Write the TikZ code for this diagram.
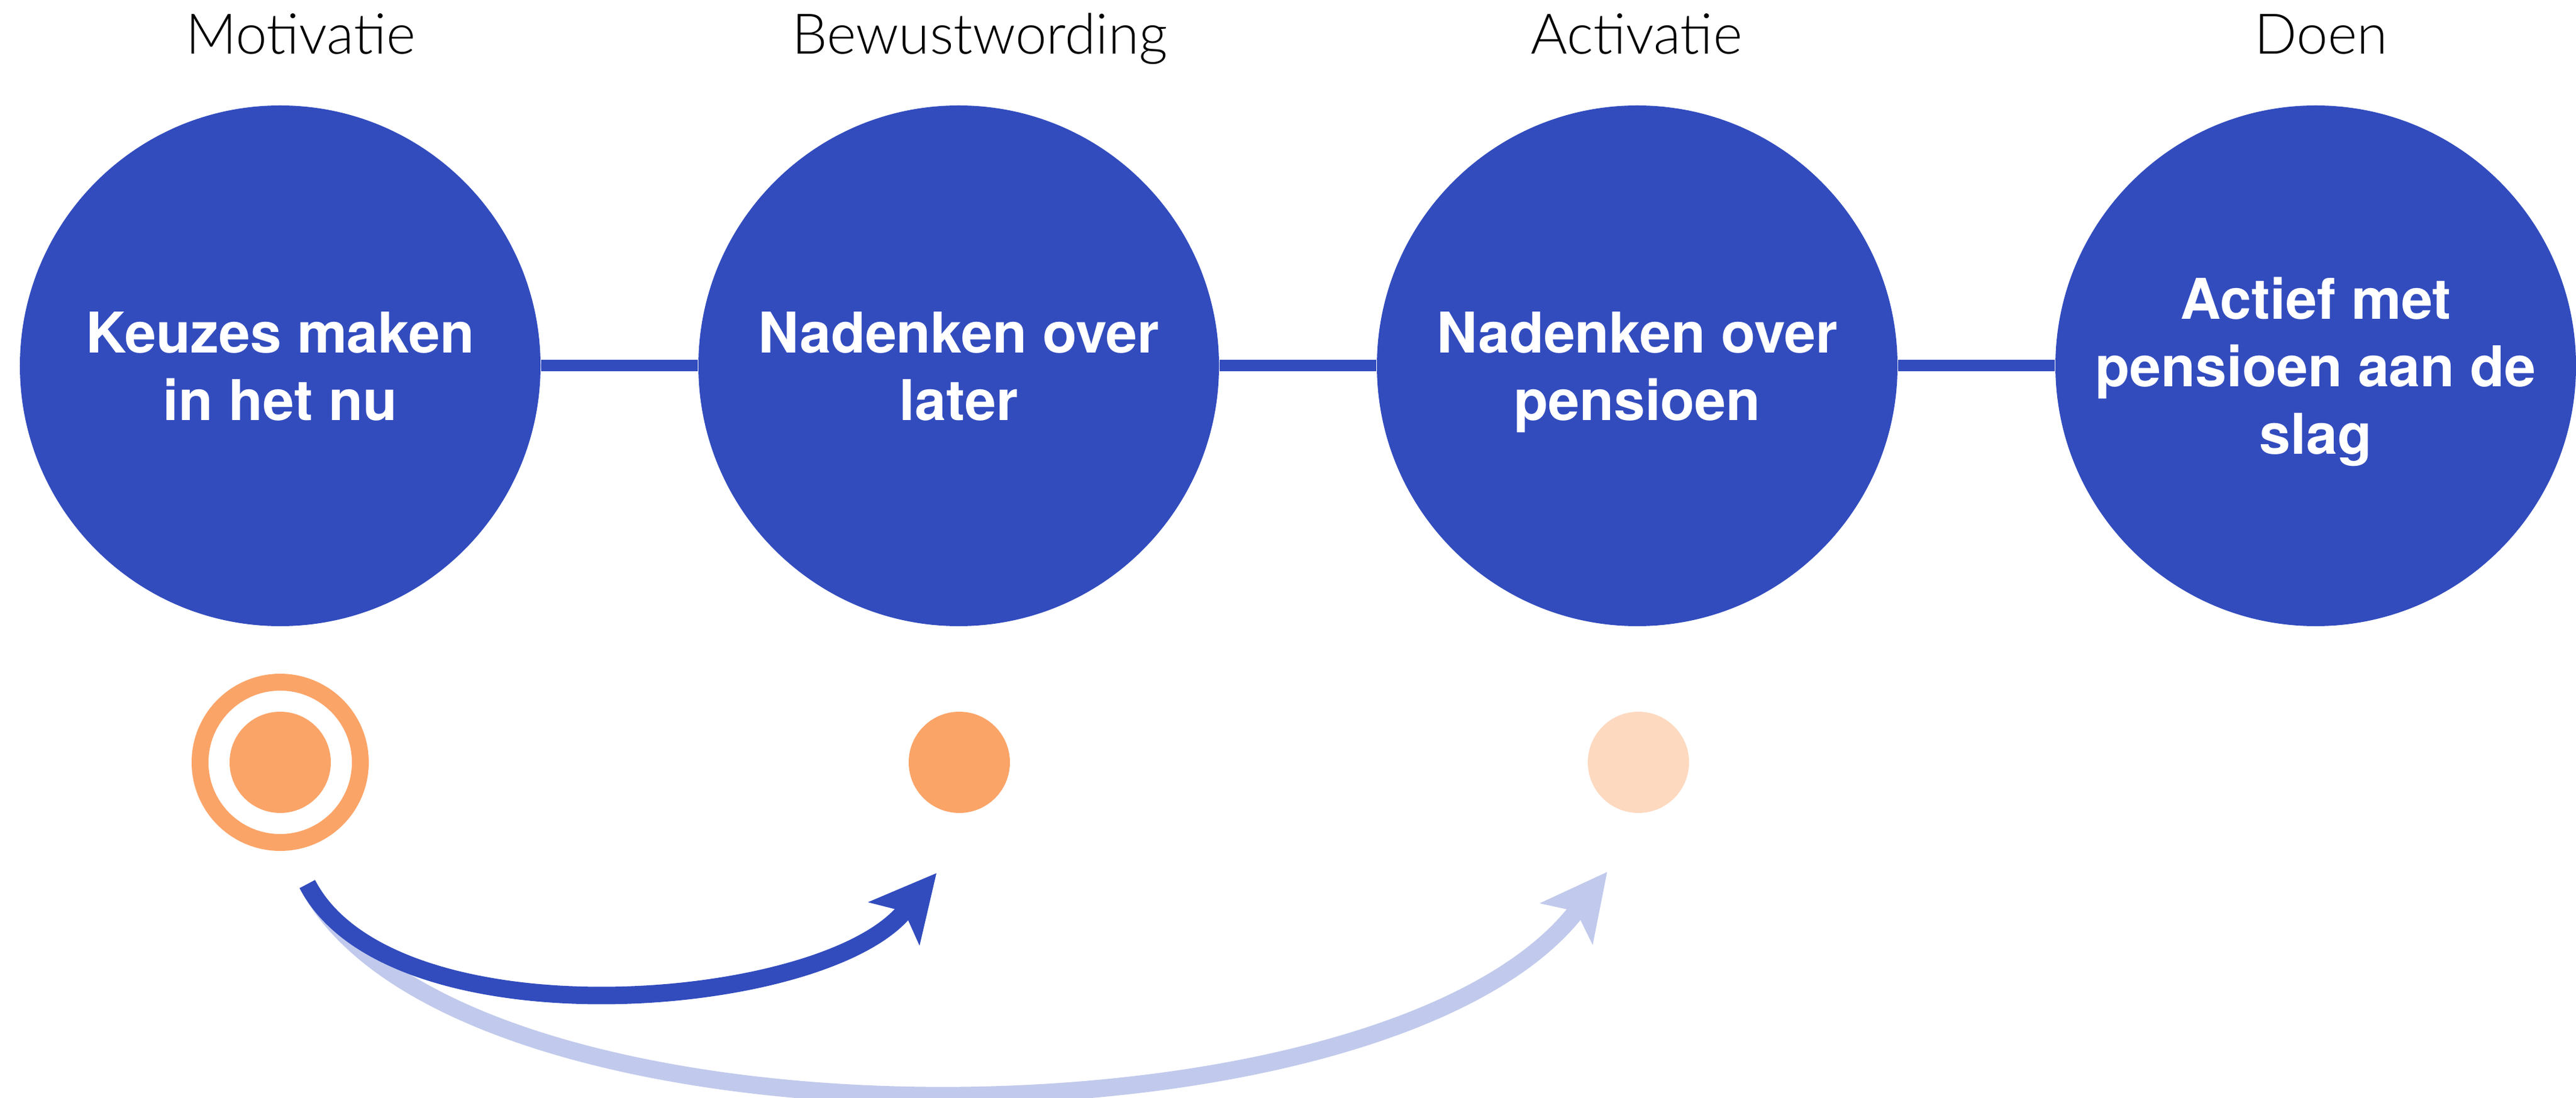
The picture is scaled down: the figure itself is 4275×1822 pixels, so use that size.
\documentclass[tikz,border=0pt]{standalone}
\usepackage{fontspec}
\usetikzlibrary{arrows.meta}
\newfontfamily\boldf{TeX Gyre Heros}
\IfFontExistsTF{Lato Light}{\newfontfamily\hdrf{Lato Light}}{\newfontfamily\hdrf{Lato}}
\definecolor{mainblue}{HTML}{324CBE}
\definecolor{lightblue}{HTML}{C1CAEC}
\definecolor{orangec}{HTML}{FBA468}
\definecolor{peach}{HTML}{FDD9C0}
\tikzset{
  bigc/.style={circle, fill=mainblue, minimum size=172.8pt, inner sep=0pt,
    text=white, align=center, text depth=0pt,
    font=\boldf\bfseries\fontsize{18.66pt}{22.4pt}\selectfont},
  hdr/.style={anchor=base, inner sep=0pt, text=black,
    font=\hdrf\fontsize{18.6pt}{22pt}\selectfont},
  link/.style={draw=mainblue, line width=3.8pt},
  ring/.style={circle, draw=orangec, line width=5.6pt, minimum size=53.2pt, inner sep=0pt},
  dotc/.style={circle, minimum size=33.6pt, inner sep=0pt},
  arrowdark/.style={draw=mainblue, line width=5.8pt,
    -{Stealth[length=22pt, width=22.4pt, inset=5.4pt, line width=0pt]}},
  arrowlight/.style={draw=lightblue, line width=5.8pt,
    -{Stealth[length=22pt, width=22.4pt, inset=5.4pt, line width=0pt]}}
}
\begin{document}
\begin{tikzpicture}[x=0.2pt,y=-0.2pt]
\useasboundingbox (0,0) rectangle (4275,1822);
% headers
\node[hdr] (h1) at (499,90) {Motivatie};
\node[hdr] (h2) at (1626,90) {Bewustwording};
\node[hdr] (h3) at (2716,90) {Activatie};
\node[hdr] (h4) at (3852,90) {Doen};
% big circles
\node[bigc] (c1) at (465,607) {Keuzes maken\\in het nu};
\node[bigc] (c2) at (1591,607) {Nadenken over\\later};
\node[bigc] (c3) at (2717,607) {Nadenken over\\pensioen};
\node[bigc] (c4) at (3843,607) {Actief met\\pensioen aan de\\slag};
% links
\draw[link] (c1.east) -- (c2.west);
\draw[link] (c2.east) -- (c3.west);
\draw[link] (c3.east) -- (c4.west);
% small circles
\node[ring] (r1) at (465,1265) {};
\node[dotc, fill=orangec] (d1) at (465,1265) {};
\node[dotc, fill=orangec] (d2) at (1592,1265) {};
\node[dotc, fill=peach] (d3) at (2719,1265) {};
% arrows
\coordinate (a0) at (510,1467);
\coordinate (a1) at (1554,1449);
\coordinate (a2) at (2667,1447);
\draw[arrowlight] (a0) .. controls (749.7,1928.2) and (2290.6,1926.5) .. (a2);
\draw[arrowdark] (a0) .. controls (648,1733) and (1360.5,1679) .. (a1);
\end{tikzpicture}
\end{document}
